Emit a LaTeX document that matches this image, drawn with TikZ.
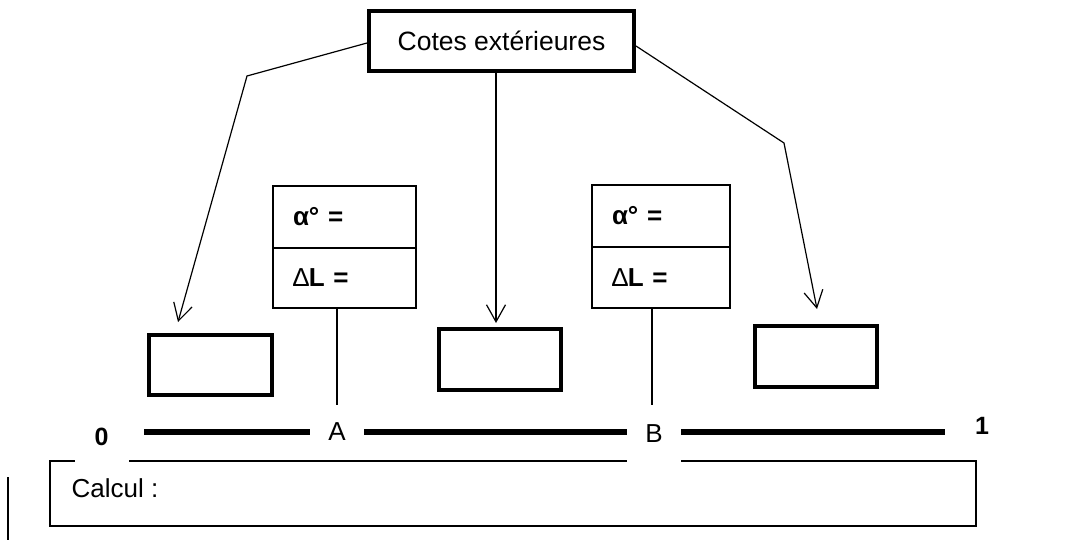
\documentclass[tikz,border=0pt]{standalone}
\usepackage{fontspec}
\setmainfont{Liberation Sans}
\usetikzlibrary{arrows.meta,calc}

\tikzset{
  thin line/.style={line width=1.2pt},
  thickbox/.style={draw, line width=4pt, inner sep=0pt},
  valbox/.style={draw, thin line, inner xsep=20pt, inner ysep=0pt, align=left,
                 font=\fontsize{26}{30}\selectfont\bfseries},
  arr/.style={thin line, -{Straight Barb[length=17pt,width=19pt,line width=1.2pt]}},
  pointlabel/.style={fill=white, inner sep=0pt, minimum width=54pt,
                     font=\fontsize{26}{30}\selectfont},
  endlabel/.style={inner sep=0pt, font=\fontsize{25}{28}\selectfont\bfseries},
}

\begin{document}
\begin{tikzpicture}[x=1pt,y=-1pt]
  \useasboundingbox (0,0) rectangle (1070,540);

  % calculation frame
  \node[draw, thin line, minimum width=926pt, minimum height=65pt, inner sep=0pt]
    (calc) at (513,493.5) {};
  \node[anchor=west, inner sep=0pt, font=\fontsize{26}{30}\selectfont]
    (calctxt) at ($(calc.west)+(22,-5.5)$) {Calcul :};
  \draw[thin line] (8,477) -- (8,540);

  % the dimension line from 0 to 1
  \coordinate (lstart) at (144,432);
  \coordinate (lend) at (945,432);
  \draw[line width=5.5pt] (lstart) -- (lend);
  \node[pointlabel, minimum height=53pt] (zero) at (101.5,436.5) {\bfseries\fontsize{25}{28}\selectfont 0};
  \node[endlabel] (one) at (982,426) {1};
  \node[pointlabel, minimum height=54pt] (ptA) at (337,432) {A};
  \node[pointlabel, minimum height=57pt] (ptB) at (654,433.5) {B};

  % angle / length boxes
  \node[valbox, text width=103pt, minimum height=62pt] (alphaA) at (344.5,217) {α° =};
  \node[valbox, text width=103pt, minimum height=60pt] (deltaA) at (344.5,278) {{\mdseries ∆}L =};
  \node[valbox, text width=98pt, minimum height=62pt] (alphaB) at (661,216) {α° =};
  \node[valbox, text width=98pt, minimum height=61pt] (deltaB) at (661,277.5) {{\mdseries ∆}L =};
  \draw[thin line] (deltaA.south -| ptA) -- (ptA.north);
  \draw[thin line] (deltaB.south -| 652,0) -- (652,405);

  % outer dimension boxes
  \node[thickbox, minimum width=123pt, minimum height=60pt] (dimL) at (210.5,365) {};
  \node[thickbox, minimum width=122pt, minimum height=61pt] (dimM) at (500,359.5) {};
  \node[thickbox, minimum width=122pt, minimum height=61pt] (dimR) at (816,356.5) {};

  % title box
  \node[thickbox, minimum width=265pt, minimum height=60pt, font=\fontsize{26.5}{31}\selectfont]
    (top) at (501.5,41) {Cotes extérieures};

  % arrows to the outer dimensions
  \coordinate (lbend) at (247,76);
  \coordinate (ltip) at (178,322);
  \coordinate (mtip) at (496,323);
  \coordinate (rbend) at (784,143);
  \coordinate (rtip) at (817,309);
  \draw[arr] ($(top.west)+(0,2)$) -- (lbend) -- (ltip);
  \draw[arr] (top.south -| mtip) -- (mtip);
  \draw[arr] ($(top.east)+(0,5)$) -- (rbend) -- (rtip);
\end{tikzpicture}
\end{document}
